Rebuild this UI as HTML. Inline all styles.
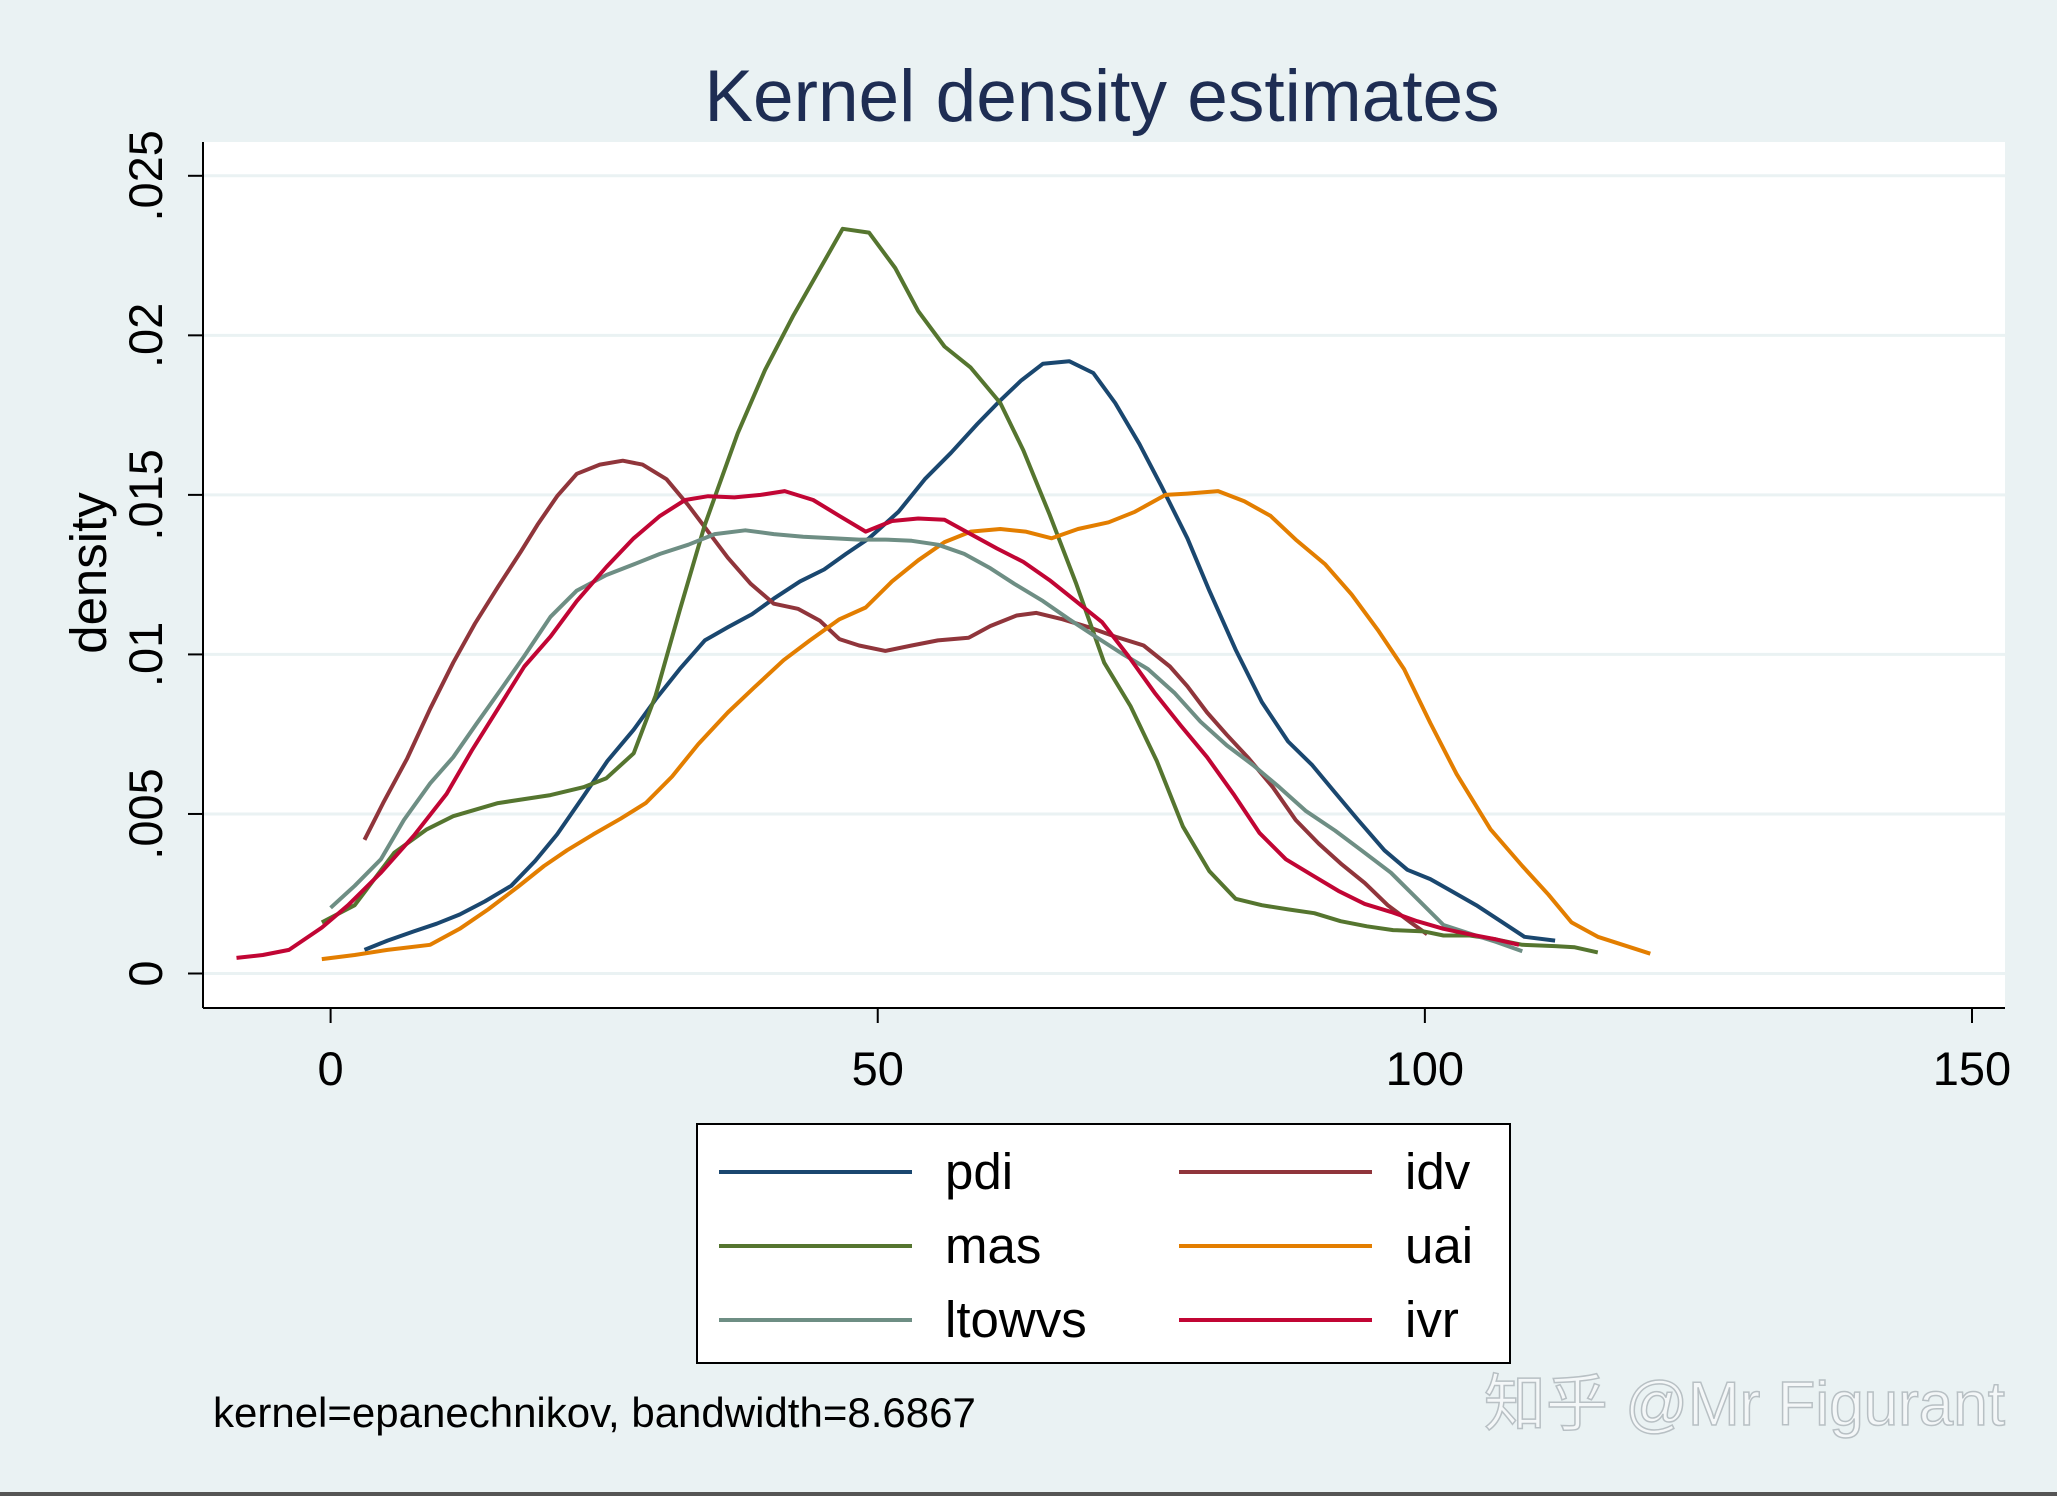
<!DOCTYPE html>
<html><head><meta charset="utf-8"><style>
html,body{margin:0;padding:0;background:#eaf2f3;}
svg{display:block;font-family:"Liberation Sans","Noto Sans CJK SC",sans-serif;}
</style></head><body>
<svg id="chart" width="2057" height="1496" viewBox="0 0 2057 1496" xmlns="http://www.w3.org/2000/svg">
<rect x="0" y="0" width="2057" height="1496" fill="#eaf2f3"/>
<rect x="203" y="142" width="1802" height="866" fill="#ffffff"/>
<text x="1102" y="121" font-size="73" fill="#1e2d53" text-anchor="middle">Kernel density estimates</text>
<g id="grid"></g>
<g id="series"></g>
<g id="axes"></g>
<text transform="translate(106,573) rotate(-90)" font-size="51" fill="#000" text-anchor="middle">density</text>
<rect x="697" y="1124" width="813" height="239" fill="#fff" stroke="#000" stroke-width="2"/>
<g id="legend"></g>
<text x="213" y="1427" font-size="42" fill="#000">kernel=epanechnikov, bandwidth=8.6867</text>
<text x="2005" y="1425" font-size="62" fill="#f4f7f8" stroke="#b8c0c4" stroke-width="1.5" text-anchor="end">知乎 @Mr Figurant</text>
<rect x="0" y="1492" width="2057" height="4" fill="#555"/>
</svg>
<script>
const xTicks=[0,50,100,150];
const yTicks=[0,0.005,0.01,0.015,0.02,0.025];
const yTickLabels=["0",".005",".01",".015",".02",".025"];
const seriesNames=["pdi","idv","mas","uai","ltowvs","ivr"];
const seriesColors=["#1a476f","#90353b","#55752f","#e37e00","#6e8e84","#c10534"];
const pdiX=[3.1,5.2,7.6,9.7,11.8,14.1,16.5,18.7,20.7,23.1,25.3,27.7,29.7,31.9,34.2,36.3,38.5,40.5,42.9,45.1,47.1,49.2,51.9,54.3,56.7,59.1,61.2,63.1,65.1,67.5,69.7,71.7,73.9,75.9,78.3,80.3,82.7,85.1,87.5,89.7,91.8,93.9,96.3,98.4,100.5,102.6,104.7,107.1,109.1,111.9];
const pdiY=[0.74,1.03,1.32,1.56,1.85,2.26,2.75,3.53,4.36,5.55,6.66,7.64,8.59,9.54,10.44,10.85,11.26,11.75,12.29,12.66,13.15,13.64,14.47,15.49,16.32,17.22,17.96,18.58,19.11,19.19,18.82,17.88,16.60,15.29,13.64,12.0,10.15,8.51,7.27,6.53,5.67,4.81,3.86,3.25,2.96,2.55,2.14,1.60,1.15,1.03];
const masX=[-0.8,2.2,5.8,8.8,11.2,15.3,20.1,23.1,25.2,27.7,29.7,31.9,34.2,37.2,39.7,42.3,44.7,46.8,49.2,51.6,53.7,56.1,58.5,61.2,63.3,65.7,68.1,70.7,73.1,75.5,77.9,80.3,82.7,85.1,87.5,89.9,92.3,94.7,97.1,99.9,101.7,104.1,106.5,108.9,111.9,113.7,115.8];
const masY=[1.6,2.14,3.78,4.52,4.93,5.34,5.59,5.84,6.12,6.90,8.71,11.38,14.06,16.93,18.91,20.63,22.07,23.34,23.22,22.11,20.76,19.65,18.99,17.88,16.40,14.39,12.25,9.74,8.38,6.66,4.60,3.21,2.34,2.14,2.01,1.89,1.64,1.48,1.36,1.32,1.19,1.19,1.07,0.90,0.86,0.82,0.66];
const idvX=[3.1,4.8,7.0,9.1,11.2,13.2,15.3,17.4,18.9,20.7,22.5,24.6,26.7,28.5,30.7,32.7,34.5,36.3,38.4,40.5,42.7,44.7,46.5,48.3,50.7,53.1,55.5,58.3,60.3,62.7,64.5,66.9,69.3,71.7,74.3,76.7,78.3,80.1,81.9,83.9,86.1,88.2,90.3,92.3,94.5,96.6,98.7,100.2];
const idvY=[4.19,5.34,6.74,8.30,9.74,10.97,12.12,13.23,14.06,14.96,15.66,15.95,16.07,15.95,15.49,14.67,13.85,13.03,12.21,11.59,11.43,11.06,10.48,10.28,10.11,10.28,10.44,10.52,10.89,11.22,11.30,11.10,10.85,10.56,10.28,9.62,9.0,8.18,7.48,6.74,5.84,4.81,4.07,3.45,2.84,2.14,1.60,1.23];
const uaiX=[-0.8,2.2,5.2,9.1,11.8,14.4,17.1,19.5,21.6,24.0,26.5,28.8,31.2,33.6,36.3,38.7,41.4,43.8,46.5,48.9,51.3,53.7,56.1,58.5,61.2,63.5,65.9,68.3,71.1,73.5,76.3,78.3,81.1,83.5,85.9,88.2,90.9,93.3,95.7,98.1,100.5,102.9,106.0,108.9,111.3,113.4,115.8,120.6];
const uaiY=[0.45,0.58,0.74,0.90,1.40,2.01,2.71,3.37,3.86,4.36,4.85,5.34,6.17,7.19,8.18,8.96,9.82,10.44,11.10,11.47,12.29,12.95,13.52,13.85,13.93,13.85,13.64,13.93,14.14,14.47,15.0,15.04,15.12,14.80,14.34,13.60,12.82,11.88,10.77,9.54,7.85,6.25,4.52,3.37,2.47,1.60,1.15,0.62];
const ltoX=[0,2.2,4.6,6.7,9.1,11.2,13.3,15.6,17.7,20.1,22.5,25.2,27.7,30.1,32.7,35.1,37.9,40.5,43.2,45.9,48.3,50.7,53.1,55.5,57.9,60.3,62.5,65.1,67.5,69.9,72.3,74.7,77.1,79.5,81.9,84.3,86.7,89.1,91.8,94.2,96.9,99.3,101.7,104.3,106.5,108.9];
const ltoY=[2.06,2.75,3.58,4.81,5.96,6.78,7.81,8.92,9.95,11.18,12.0,12.49,12.82,13.15,13.44,13.77,13.89,13.77,13.69,13.64,13.60,13.60,13.56,13.44,13.15,12.70,12.21,11.67,11.10,10.56,10.03,9.54,8.80,7.89,7.15,6.53,5.84,5.10,4.48,3.86,3.16,2.34,1.52,1.23,0.99,0.70];
const ivrX=[-8.6,-6.2,-3.8,-0.8,1.6,4.6,7.6,10.6,12.9,15.3,17.7,20.1,22.5,25.2,27.7,30.1,32.4,34.5,36.9,39.3,41.5,44.1,46.5,48.9,51.3,53.7,56.1,58.5,60.9,63.3,65.7,68.1,70.5,72.9,75.3,77.7,80.1,82.5,84.9,87.3,89.7,92.1,94.5,96.9,99.3,101.7,104.1,106.5,108.6];
const ivrY=[0.49,0.58,0.74,1.44,2.14,3.16,4.32,5.63,6.99,8.30,9.62,10.56,11.67,12.74,13.64,14.34,14.84,14.96,14.92,15.0,15.12,14.84,14.34,13.85,14.18,14.26,14.22,13.77,13.32,12.90,12.33,11.67,11.01,9.95,8.80,7.77,6.78,5.63,4.40,3.58,3.08,2.59,2.18,1.93,1.64,1.40,1.23,1.07,0.90];
const seriesX=[pdiX,idvX,masX,uaiX,ltoX,ivrX];
const seriesY=[pdiY,idvY,masY,uaiY,ltoY,ivrY];

const NS="http://www.w3.org/2000/svg";
const X0=330.6,X1=1972,Y0=973.5,Y1=175.8;
function sx(v){return X0+(X1-X0)*v/150;}
function sy(v){return Y0-(Y0-Y1)*v/0.025;}
function mk(t,a,p){const e=document.createElementNS(NS,t);for(const k in a)e.setAttribute(k,a[k]);p.appendChild(e);return e;}
const grid=document.getElementById('grid'),axes=document.getElementById('axes'),ser=document.getElementById('series'),leg=document.getElementById('legend');
yTicks.forEach((t,i)=>{
  const g=mk('line',{x1:203,x2:2005,y1:sy(t),y2:sy(t),stroke:'#eaf2f3','stroke-width':3},grid);
  
  
  const tk=mk('line',{x1:188,x2:203,y1:sy(t),y2:sy(t),stroke:'#000','stroke-width':2},axes);
  
  
  const lb=mk('text',{transform:`translate(162,${sy(t)}) rotate(-90)`,'font-size':47,'text-anchor':'middle',fill:'#000'},axes);
  lb.textContent=yTickLabels[i];
  
  
});
const yl=mk('line',{x1:203,x2:203,y1:142,y2:1008,stroke:'#000','stroke-width':2},axes);


const xl=mk('line',{x1:203,x2:2005,y1:1008,y2:1008,stroke:'#000','stroke-width':2},axes);


xTicks.forEach(t=>{
  const tk=mk('line',{x1:sx(t),x2:sx(t),y1:1008,y2:1023,stroke:'#000','stroke-width':2},axes);
  
  
  const lb=mk('text',{x:sx(t),y:1085,'font-size':47,'text-anchor':'middle',fill:'#000'},axes);
  lb.textContent=String(t);
  
  
});
seriesNames.forEach((n,i)=>{
  const pts=seriesX[i].map((x,j)=>sx(x).toFixed(1)+','+sy(seriesY[i][j]/1000).toFixed(1)).join(' ');
  const p=mk('polyline',{points:pts,fill:'none',stroke:seriesColors[i],'stroke-width':4,'stroke-linejoin':'round'},ser);
  
  
  const col=i%2,row=Math.floor(i/2);
  const lx=col?1179:719,tx=col?1405:945,ly=1172+row*74;
  const ll=mk('line',{x1:lx,x2:lx+193,y1:ly,y2:ly,stroke:seriesColors[i],'stroke-width':4},leg);
  
  
  const lt=mk('text',{x:tx,y:ly+17,'font-size':51,fill:'#000'},leg);
  lt.textContent=n;
  
  
});
</script>
</body></html>
